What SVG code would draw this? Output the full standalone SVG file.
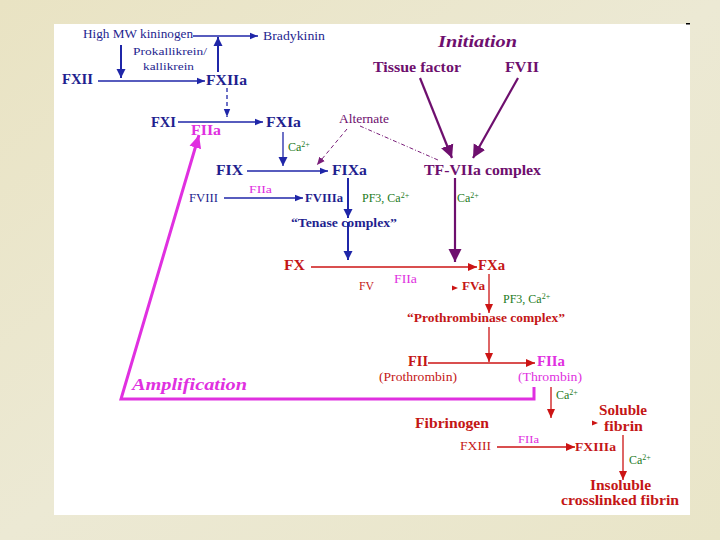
<svg xmlns="http://www.w3.org/2000/svg" width="720" height="540" viewBox="0 0 720 540">
<defs>
<linearGradient id="bg" x1="0" y1="0" x2="1" y2="1">
<stop offset="0" stop-color="#e9e3c3"/>
<stop offset="0.5" stop-color="#ece9d4"/>
<stop offset="1" stop-color="#e9e5c8"/>
</linearGradient>
<marker id="mNavy" markerUnits="userSpaceOnUse" markerWidth="9" markerHeight="8" refX="8" refY="4" orient="auto"><path d="M0,0.8 L8,4 L0,7.2 z" fill="#1f26a8"/></marker>
<marker id="mNavyB" markerUnits="userSpaceOnUse" markerWidth="10" markerHeight="10" refX="9" refY="5" orient="auto"><path d="M0,0.5 L9,5 L0,9.5 z" fill="#1f26a8"/></marker>
<marker id="mPurple" markerUnits="userSpaceOnUse" markerWidth="14" markerHeight="14" refX="13" refY="7" orient="auto"><path d="M0,0.5 L13,7 L0,13.5 z" fill="#6e0f6e"/></marker>
<marker id="mPurpleS" markerUnits="userSpaceOnUse" markerWidth="9" markerHeight="8" refX="8" refY="4" orient="auto"><path d="M0,0.5 L8,4 L0,7.5 z" fill="#7a1f7a"/></marker>
<marker id="mRed" markerUnits="userSpaceOnUse" markerWidth="10" markerHeight="9" refX="9" refY="4.5" orient="auto"><path d="M0,0.5 L9,4.5 L0,8.5 z" fill="#cc1414"/></marker>
<marker id="mMag" markerUnits="userSpaceOnUse" markerWidth="14" markerHeight="14" refX="13" refY="7" orient="auto"><path d="M0,1 L13,7 L0,13 z" fill="#e030e0"/></marker>
</defs>
<style>
text{font-family:"Liberation Serif","Times New Roman",serif;}
.navy{fill:#1f1f8f;}
.purple{fill:#6e0f6e;}
.red{fill:#c41616;}
.mag{fill:#e030e0;}
.green{fill:#237a23;font-size:12px;}
.sup{font-size:8px;}
.b{font-weight:bold;}
.i{font-style:italic;}
.ln{fill:none;stroke:#1f26a8;stroke-width:1.3;}
.lnB{fill:none;stroke:#1f26a8;stroke-width:2;}
.lp{fill:none;stroke:#6e0f6e;stroke-width:2.2;}
.lpd{fill:none;stroke:#7a1f7a;stroke-width:1;}
.lr{fill:none;stroke:#cc1414;stroke-width:1.3;}
.lm{fill:none;stroke:#e030e0;stroke-width:3;}
</style>
<rect x="0" y="0" width="720" height="540" fill="url(#bg)"/>
<rect x="54" y="24" width="636" height="491" fill="#ffffff"/>
<rect x="686" y="23" width="4" height="1.5" fill="#000000"/>

<g id="connectors">
<path class="ln" d="M193,36 H258" marker-end="url(#mNavy)"/>
<path class="lnB" d="M121,45 V78" marker-end="url(#mNavyB)"/>
<path class="lnB" d="M218,72 V37" marker-end="url(#mNavyB)"/>
<path class="ln" d="M98,81 H205" marker-end="url(#mNavy)"/>
<path class="ln" d="M227,88 V117" stroke-dasharray="4,3" marker-end="url(#mNavy)"/>
<path class="ln" d="M178,122 H263" marker-end="url(#mNavy)"/>
<path class="ln" d="M283,132 V166" marker-end="url(#mNavyB)"/>
<path class="ln" d="M247,171 H328" marker-end="url(#mNavy)"/>
<path class="ln" d="M224,198 H303" marker-end="url(#mNavy)"/>
<path class="lnB" d="M348,178 V218" marker-end="url(#mNavyB)"/>
<path class="lnB" d="M348,222 V260" marker-end="url(#mNavyB)"/>
<path class="lp" d="M420,78 L452,158" marker-end="url(#mPurple)"/>
<path class="lp" d="M518,78 L473,158" marker-end="url(#mPurple)"/>
<path class="lpd" d="M347,129 L317,165" stroke-dasharray="4,3" marker-end="url(#mPurpleS)"/>
<path class="lpd" d="M360,126 L438,160" stroke-dasharray="4,2,1,2"/>
<path class="lp" d="M455,178 V262" marker-end="url(#mPurple)"/>
<path class="lr" d="M311,267 H477" marker-end="url(#mRed)"/>
<path d="M452,285.5 L458,288 L452,290.5 z" fill="#cc1414"/>
<path class="lr" d="M489,274 V313" marker-end="url(#mRed)"/>
<path class="lr" d="M489,327 V362" marker-end="url(#mRed)"/>
<path class="lr" d="M428,363 H535" marker-end="url(#mRed)"/>
<path class="lr" d="M551,387 V418" marker-end="url(#mRed)"/>
<path class="lr" d="M497,447 H575" marker-end="url(#mRed)"/>
<path d="M592,420.5 L598,423 L592,425.5 z" fill="#cc1414"/>
<path class="lr" d="M623,435 V480" marker-end="url(#mRed)"/>
<path class="lm" d="M534,387 V399 H121 L199,135" marker-end="url(#mMag)"/>
</g>

<g id="n-hmwk"><text class="navy" x="83" y="38" font-size="12" textLength="110" lengthAdjust="spacingAndGlyphs">High MW kininogen</text></g>
<g id="n-bradykinin"><text class="navy" x="263" y="40" font-size="12" textLength="62" lengthAdjust="spacingAndGlyphs">Bradykinin</text></g>
<g id="n-prokallikrein"><text class="navy" x="133" y="55" font-size="11" textLength="74" lengthAdjust="spacingAndGlyphs">Prokallikrein/</text>
<text class="navy" x="143" y="70" font-size="11" textLength="51" lengthAdjust="spacingAndGlyphs">kallikrein</text></g>
<g id="n-fxii"><text class="navy b" x="62" y="84" font-size="15" textLength="31" lengthAdjust="spacingAndGlyphs">FXII</text></g>
<g id="n-fxiia"><text class="navy b" x="206" y="85" font-size="15" textLength="41" lengthAdjust="spacingAndGlyphs">FXIIa</text></g>
<g id="n-fxi"><text class="navy b" x="151" y="127" font-size="15" textLength="25" lengthAdjust="spacingAndGlyphs">FXI</text></g>
<g id="n-fxia"><text class="navy b" x="266" y="127" font-size="15" textLength="35" lengthAdjust="spacingAndGlyphs">FXIa</text></g>
<g id="n-fiia-amp"><text class="mag b" x="191" y="135" font-size="14" textLength="30" lengthAdjust="spacingAndGlyphs">FIIa</text></g>
<g id="l-ca1"><text class="green" x="288" y="151">Ca<tspan class="sup" dy="-4">2+</tspan></text></g>
<g id="n-fix"><text class="navy b" x="216" y="175" font-size="15" textLength="27" lengthAdjust="spacingAndGlyphs">FIX</text></g>
<g id="n-fixa"><text class="navy b" x="332" y="175" font-size="15" textLength="35" lengthAdjust="spacingAndGlyphs">FIXa</text></g>
<g id="n-alternate"><text class="purple" x="339" y="123" font-size="12" textLength="50" lengthAdjust="spacingAndGlyphs">Alternate</text></g>
<g id="n-initiation"><text class="purple b i" x="438" y="47" font-size="16" textLength="79" lengthAdjust="spacingAndGlyphs">Initiation</text></g>
<g id="n-tissuefactor"><text class="purple b" x="373" y="72" font-size="14" textLength="88" lengthAdjust="spacingAndGlyphs">Tissue factor</text></g>
<g id="n-fvii"><text class="purple b" x="505" y="72" font-size="14" textLength="34" lengthAdjust="spacingAndGlyphs">FVII</text></g>
<g id="n-tfviia"><text class="purple b" x="424" y="175" font-size="14" textLength="117" lengthAdjust="spacingAndGlyphs">TF-VIIa complex</text></g>
<g id="n-fviii"><text class="navy" x="189" y="202" font-size="12" textLength="29" lengthAdjust="spacingAndGlyphs">FVIII</text></g>
<g id="l-fiia1"><text class="mag" x="249" y="193" font-size="11" textLength="23" lengthAdjust="spacingAndGlyphs">FIIa</text></g>
<g id="n-fviiia"><text class="navy b" x="305" y="202" font-size="13" textLength="38" lengthAdjust="spacingAndGlyphs">FVIIIa</text></g>
<g id="l-pf3-1"><text class="green" x="362" y="202">PF3, Ca<tspan class="sup" dy="-4">2+</tspan></text></g>
<g id="n-tenase"><text class="navy b" x="291" y="227" font-size="12" textLength="106" lengthAdjust="spacingAndGlyphs">“Tenase complex”</text></g>
<g id="l-ca2"><text class="green" x="457" y="202">Ca<tspan class="sup" dy="-4">2+</tspan></text></g>
<g id="n-fx"><text class="red b" x="284" y="270" font-size="15" textLength="21" lengthAdjust="spacingAndGlyphs">FX</text></g>
<g id="n-fxa"><text class="red b" x="478" y="270" font-size="14" textLength="27" lengthAdjust="spacingAndGlyphs">FXa</text></g>
<g id="n-fv"><text class="red" x="359" y="290" font-size="12" textLength="15" lengthAdjust="spacingAndGlyphs">FV</text></g>
<g id="l-fiia2"><text class="mag" x="394" y="283" font-size="12" textLength="23" lengthAdjust="spacingAndGlyphs">FIIa</text></g>
<g id="n-fva"><text class="red b" x="462" y="290" font-size="13" textLength="23" lengthAdjust="spacingAndGlyphs">FVa</text></g>
<g id="l-pf3-2"><text class="green" x="503" y="303">PF3, Ca<tspan class="sup" dy="-4">2+</tspan></text></g>
<g id="n-prothrombinase"><text class="red b" x="407" y="322" font-size="12" textLength="158" lengthAdjust="spacingAndGlyphs">“Prothrombinase complex”</text></g>
<g id="n-fii"><text class="red b" x="408" y="366" font-size="14" textLength="20" lengthAdjust="spacingAndGlyphs">FII</text>
<text class="red" x="379" y="381" font-size="12" textLength="78" lengthAdjust="spacingAndGlyphs">(Prothrombin)</text></g>
<g id="n-fiia"><text class="mag b" x="537" y="366" font-size="14" textLength="28" lengthAdjust="spacingAndGlyphs">FIIa</text>
<text class="mag" x="518" y="381" font-size="12" textLength="64" lengthAdjust="spacingAndGlyphs">(Thrombin)</text></g>
<g id="l-ca3"><text class="green" x="556" y="399">Ca<tspan class="sup" dy="-4">2+</tspan></text></g>
<g id="n-amplification"><text class="mag b i" x="132" y="390" font-size="16" textLength="115" lengthAdjust="spacingAndGlyphs">Amplification</text></g>
<g id="n-fibrinogen"><text class="red b" x="415" y="428" font-size="14" textLength="74" lengthAdjust="spacingAndGlyphs">Fibrinogen</text></g>
<g id="n-fxiii"><text class="red" x="460" y="450" font-size="12" textLength="31" lengthAdjust="spacingAndGlyphs">FXIII</text></g>
<g id="l-fiia3"><text class="mag" x="518" y="443" font-size="11" textLength="21" lengthAdjust="spacingAndGlyphs">FIIa</text></g>
<g id="n-fxiiia"><text class="red b" x="575" y="451" font-size="13" textLength="41" lengthAdjust="spacingAndGlyphs">FXIIIa</text></g>
<g id="n-soluble"><text class="red b" x="599" y="415" font-size="14" textLength="48" lengthAdjust="spacingAndGlyphs">Soluble</text>
<text class="red b" x="604" y="431" font-size="14" textLength="39" lengthAdjust="spacingAndGlyphs">fibrin</text></g>
<g id="l-ca4"><text class="green" x="629" y="464">Ca<tspan class="sup" dy="-4">2+</tspan></text></g>
<g id="n-insoluble"><text class="red b" x="590" y="490" font-size="14" textLength="61" lengthAdjust="spacingAndGlyphs">Insoluble</text>
<text class="red b" x="561" y="505" font-size="14" textLength="118" lengthAdjust="spacingAndGlyphs">crosslinked fibrin</text></g>
</svg>
